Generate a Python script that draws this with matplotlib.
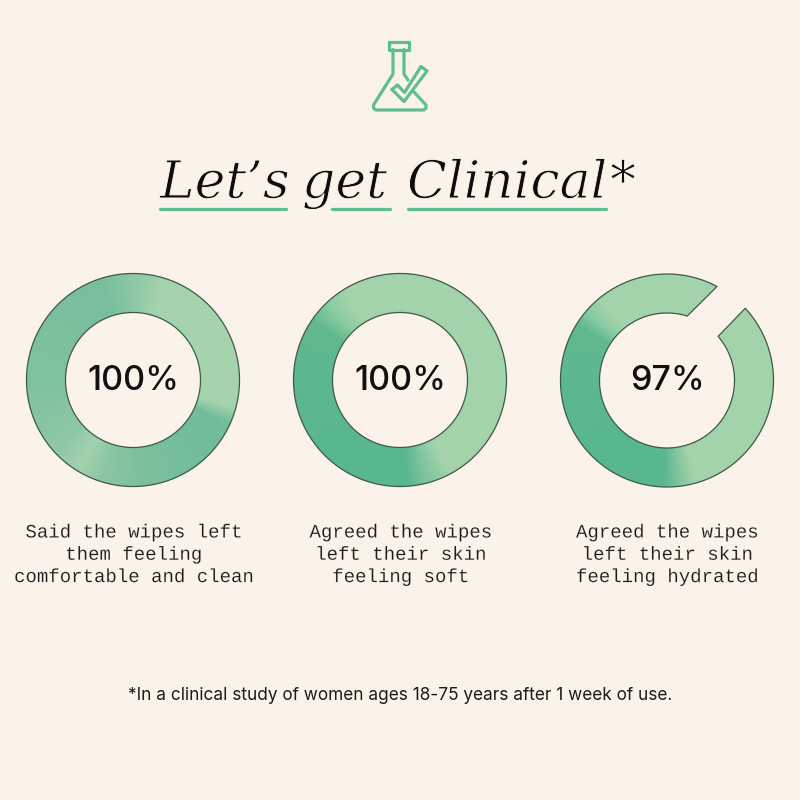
import matplotlib
matplotlib.use('Agg')
import matplotlib.pyplot as plt
import matplotlib.patheffects as pe
import numpy as np
from matplotlib.colors import to_rgb
from matplotlib.path import Path
from matplotlib.patches import PathPatch

BG = '#fbf2e9'
GREEN = '#5fbd92'
OUTLINE = '#3c5a4c'

title_words = ["Let\u2019s", "get", "Clinical", "*"]
percent_labels = ['100%', '100%', '97%']
captions = [
    "Said the wipes left\nthem feeling\ncomfortable and clean",
    "Agreed the wipes\nleft their skin\nfeeling soft",
    "Agreed the wipes\nleft their skin\nfeeling hydrated",
]
footnote = "*In a clinical study of women ages 18-75 years after 1 week of use."

# angle (deg, ccw from east) -> colour round each ring
ring1_angles = [0, 72, 88, 108, 180, 222, 238, 252, 275, 325, 336, 345, 360]
ring1_colors = ['#a6d3af', '#a5d3ae', '#8fc9a5', '#78be9c', '#7fc2a0', '#8fc8a4', '#a3d1ad',
                '#8cc7a2', '#7cc09e', '#70bc99', '#74bd9b', '#a5d3ae', '#a6d3af']
ring2_angles = [0, 122, 134, 146, 180, 250, 274, 284, 298, 360]
ring2_colors = ['#a3d3ab', '#a3d3ab', '#8accA0', '#62b98f', '#5cb88f', '#58b78f', '#5ab78f',
                '#7dc39c', '#a3d3ab', '#a3d3ab']
ring3_angles = [0, 130, 139, 148, 180, 250, 268, 276, 286, 360]
ring3_colors = ['#a3d3ab', '#a3d3ab', '#8accA0', '#62b98f', '#5cb88f', '#58b78f', '#5ab78f',
                '#7dc39c', '#a3d3ab', '#a3d3ab']

fig = plt.figure(figsize=(8, 8), dpi=100, facecolor=BG)
ax = fig.add_axes([0, 0, 1, 1])
ax.set_xlim(0, 800)
ax.set_ylim(800, 0)
ax.axis('off')


def ring_path(cx, cy, ro, ri, gap=None):
    if gap is None:
        t = np.linspace(0, 2 * np.pi, 361)
        verts = np.r_[np.c_[cx + ro * np.cos(t), cy - ro * np.sin(t)], [[0, 0]],
                      np.c_[cx + ri * np.cos(t[::-1]), cy - ri * np.sin(t[::-1])], [[0, 0]]]
        codes = np.r_[[Path.MOVETO], [Path.LINETO] * 360, [Path.CLOSEPOLY],
                      [Path.MOVETO], [Path.LINETO] * 360, [Path.CLOSEPOLY]]
        return Path(verts, codes)
    # cut edges are not radial in the picture
    o0, i0, o1, i1 = np.radians(gap)
    to = np.linspace(o1, o0 + 2 * np.pi, 300)
    ti = np.linspace(i0 + 2 * np.pi, i1, 300)
    verts = np.r_[np.c_[cx + ro * np.cos(to), cy - ro * np.sin(to)],
                  np.c_[cx + ri * np.cos(ti), cy - ri * np.sin(ti)], [[0, 0]]]
    codes = np.r_[[Path.MOVETO], [Path.LINETO] * 599, [Path.CLOSEPOLY]]
    return Path(verts, codes)


def draw_ring(cx, cy, angles, colors, gap=None):
    ro, ri = 106.5, 67.5
    path = ring_path(cx, cy, ro, ri, gap)
    n = 500
    xs = np.linspace(cx - 110, cx + 110, n)
    ys = np.linspace(cy - 110, cy + 110, n)
    xx, yy = np.meshgrid(xs, ys)
    th = np.degrees(np.arctan2(cy - yy, xx - cx)) % 360
    rgb = np.array([to_rgb(c) for c in colors])
    img = np.dstack([np.interp(th, angles, rgb[:, k]) for k in range(3)])
    im = ax.imshow(img, extent=[xs[0], xs[-1], ys[-1], ys[0]], aspect='auto', zorder=2,
                   interpolation='bilinear')
    patch = PathPatch(path, fc='none', ec=OUTLINE, lw=0.9, zorder=3, joinstyle='miter')
    ax.add_patch(patch)
    im.set_clip_path(patch)


draw_ring(133, 380, ring1_angles, ring1_colors)
draw_ring(400, 380, ring2_angles, ring2_colors)
draw_ring(667, 380.5, ring3_angles, ring3_colors, gap=(42.7, 40.8, 62, 72.6))
ax.set_xlim(0, 800)
ax.set_ylim(800, 0)

# centre labels
for x, s in zip([133, 400, 667], percent_labels):
    ax.text(x, 381, s, ha='center', va='center', fontsize=24.5, family='Inter',
            fontweight='medium', color='#111111', zorder=4)

# captions, one line at a time to hold the spacing
for x, s in zip([133.5, 400.5, 667], captions):
    for i, line in enumerate(s.split('\n')):
        ax.text(x, 533 + 22.3 * i, line, ha='center', va='center', fontsize=13.7,
                family='Liberation Mono', color='#1c1c1c',
                path_effects=[pe.Stroke(linewidth=0.12, foreground=BG)])

ax.text(400, 695, footnote, ha='center', va='center', fontsize=12.4, family='Inter',
        color='#1c1c1c')

# title, stroke in the background colour thins the glyphs
for x, s in zip([160, 302, 407, 610], title_words):
    ax.text(x, 198, s, ha='left', va='baseline', fontsize=37.5, family='DejaVu Serif',
            style='italic', color='#0d0d0d',
            path_effects=[pe.Stroke(linewidth=0.7, foreground=BG)])
for x0, x1 in [(160, 286), (332, 390), (408, 606)]:
    ax.plot([x0, x1], [209, 209], color=GREEN, lw=2.3, solid_capstyle='round')

# flask icon
icon = dict(color=GREEN, lw=2.3, solid_capstyle='round', solid_joinstyle='round')
ax.plot([389, 409, 409, 389, 389], [41.5, 41.5, 49.5, 49.5, 41.5], **icon)
ax.plot([393, 393, 373.5, 373.5, 376, 424, 426, 426, 414],
        [49.5, 74, 105, 108, 110, 110, 108, 105, 92], **icon)
ax.plot([404, 404, 408], [49.5, 74, 80], **icon)
ax.plot([392, 397.5, 404.5, 421, 427, 404, 392], [89.5, 85, 92.5, 66.5, 71, 101.5, 89.5], **icon)

fig.savefig('out.png', dpi=100, facecolor=BG)
